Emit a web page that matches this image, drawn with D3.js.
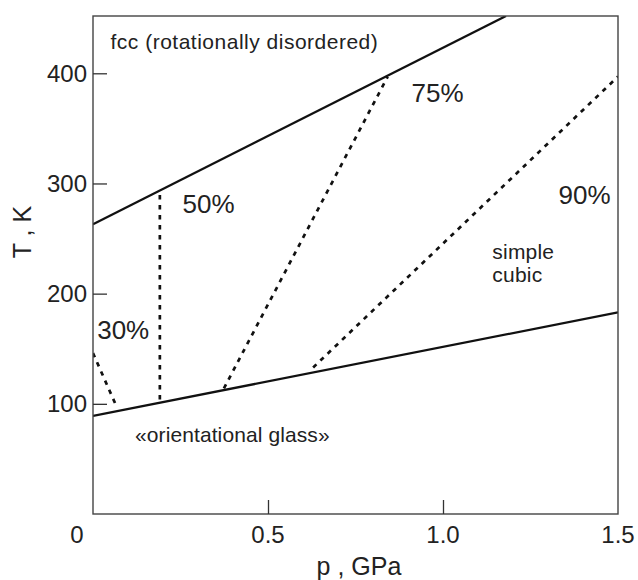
<!DOCTYPE html>
<html>
    <head>
        <style>
            body { margin: 0; background: #fff; }
            text { font-family: "Liberation Sans", Arial, Helvetica, sans-serif; fill: #222; }
            .tick-label { font-size: 24px; }
            .pct { font-size: 26px; }
            .region { font-size: 21px; letter-spacing: 0.2px; }
            .axis-title { font-size: 25px; }
        </style>
    </head>
    <body>
        <svg width="638" height="580"></svg>
        <script src="https://d3js.org/d3.v7.min.js"></script>
        <script>

        // axis ticks
        var xTicks = [0, 0.5, 1.0, 1.5];
        var xTickLabels = ["0", "0.5", "1.0", "1.5"];
        var yTicks = [100, 200, 300, 400];

        // phase boundaries (p in GPa, T in K)
        var upperBoundary = [[0, 263], [1.18, 452]];
        var lowerBoundary = [[0, 89], [1.5, 183]];

        // concentration lines (dotted)
        var concNames = ["30%", "50%", "75%", "90%"];
        var concLines = [
            [[0, 146], [0.068, 97]],
            [[0.191, 104], [0.191, 292]],
            [[0.374, 114], [0.842, 397]],
            [[0.629, 133], [1.5, 397]]
        ];
        // label anchor points (data coords, start of text baseline)
        var concLabelPos = [[0.012, 159], [0.256, 273], [0.91, 374], [1.33, 281]];

        var regionLabels = [
            {lines: ["fcc (rotationally disordered)"], p: 0.05, T: 422, spacing: 0.5},
            {lines: ["simple", "cubic"], p: 1.141, T: 231, spacing: 0.2},
            {lines: ["«orientational glass»"], p: 0.12, T: 65, spacing: 0.1}
        ];

        var svg = d3.select("svg");
        var x = d3.scaleLinear().domain([0, 1.5]).range([93, 618]);
        var y = d3.scaleLinear().domain([0, 452]).range([514, 16]);

        var line = d3.line().x(function(d) { return x(d[0]); }).y(function(d) { return y(d[1]); });

        svg.append("clipPath").attr("id", "plot")
            .append("rect")
            .attr("x", x(0)).attr("y", y(452))
            .attr("width", x(1.5) - x(0)).attr("height", y(0) - y(452));

        var g = svg.append("g").attr("clip-path", "url(#plot)");

        g.selectAll(".conc")
            .data(concLines)
            .enter().append("path")
            .attr("class", "conc")
            .attr("d", line)
            .attr("fill", "none")
            .attr("stroke", "#111")
            .attr("stroke-width", 2.7)
            .attr("stroke-dasharray", "4.5,5.5");

        g.selectAll(".boundary")
            .data([upperBoundary, lowerBoundary])
            .enter().append("path")
            .attr("class", "boundary")
            .attr("d", line)
            .attr("fill", "none")
            .attr("stroke", "#111")
            .attr("stroke-width", 2.3);

        // frame
        svg.append("rect")
            .attr("x", x(0)).attr("y", y(452))
            .attr("width", x(1.5) - x(0)).attr("height", y(0) - y(452))
            .attr("fill", "none")
            .attr("stroke", "#444")
            .attr("stroke-width", 1.4);

        // y axis: inward ticks
        var yAxis = svg.append("g")
            .attr("transform", "translate(" + x(0) + ",0)")
            .call(d3.axisRight(y).tickValues(yTicks).tickSize(14).tickFormat(""));
        yAxis.select(".domain").remove();
        yAxis.selectAll(".tick line").attr("stroke", "#333").attr("stroke-width", 1.3);

        svg.selectAll(".ylab")
            .data(yTicks)
            .enter().append("text")
            .attr("class", "tick-label")
            .attr("x", x(0) - 6)
            .attr("y", function(d) { return y(d) + 8.5; })
            .attr("text-anchor", "end")
            .text(function(d) { return d; });

        // x axis: inward ticks
        var xAxis = svg.append("g")
            .attr("transform", "translate(0," + y(0) + ")")
            .call(d3.axisTop(x).tickValues([0.5, 1.0]).tickSize(14).tickFormat(""));
        xAxis.select(".domain").remove();
        xAxis.selectAll(".tick line").attr("stroke", "#333").attr("stroke-width", 1.3);

        svg.selectAll(".xlab")
            .data(xTicks)
            .enter().append("text")
            .attr("class", "tick-label")
            .attr("x", function(d, i) { return i == 0 ? x(d) - 16 : x(d); })
            .attr("y", y(0) + 29)
            .attr("text-anchor", "middle")
            .text(function(d, i) { return xTickLabels[i]; });

        // axis titles
        svg.append("text")
            .attr("class", "axis-title")
            .attr("x", 359)
            .attr("y", 575)
            .attr("text-anchor", "middle")
            .text("p ,  GPa");

        svg.append("text")
            .attr("class", "axis-title")
            .attr("transform", "translate(31,232) rotate(-90)")
            .attr("text-anchor", "middle")
            .text("T , K");

        // percentage labels
        svg.selectAll(".pct")
            .data(concNames)
            .enter().append("text")
            .attr("class", "pct")
            .attr("x", function(d, i) { return x(concLabelPos[i][0]); })
            .attr("y", function(d, i) { return y(concLabelPos[i][1]); })
            .text(function(d) { return d; });

        // region labels
        regionLabels.forEach(function(r) {
            var t = svg.append("text")
                .attr("class", "region")
                .style("letter-spacing", r.spacing + "px")
                .attr("x", x(r.p))
                .attr("y", y(r.T));
            r.lines.forEach(function(s, i) {
                t.append("tspan")
                    .attr("x", x(r.p))
                    .attr("dy", i == 0 ? 0 : 22.5)
                    .text(s);
            });
        });

        </script>
    </body>
</html>
